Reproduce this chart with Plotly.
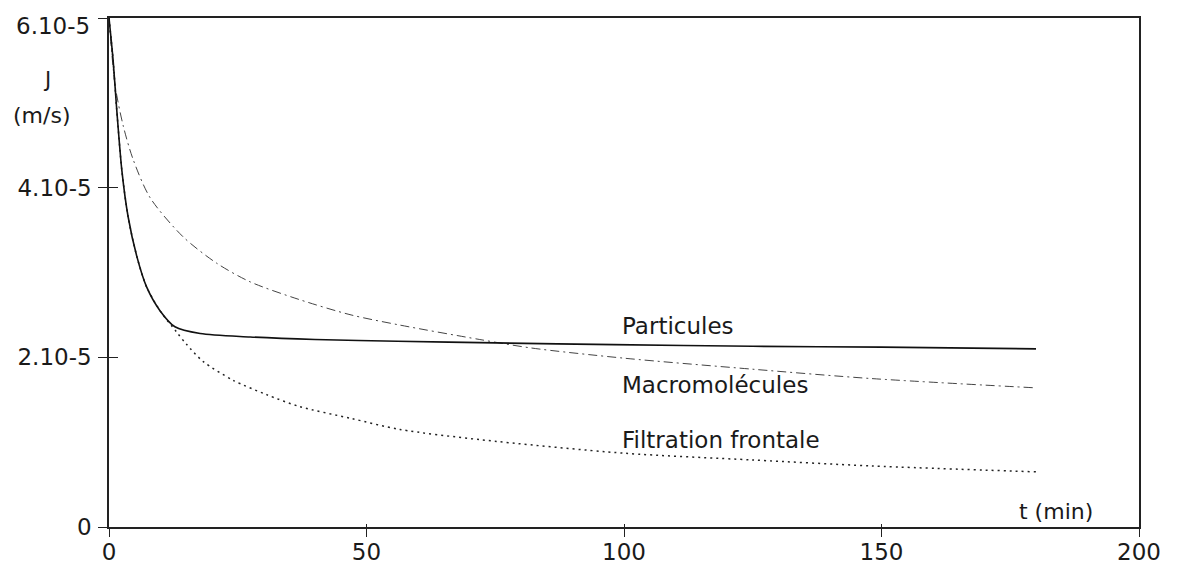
import plotly.graph_objects as go

# Flux J (unités de 1e-5 m/s) en fonction du temps t (min)
t_part = [0, 0.8, 1.5, 2.5, 3.7, 5.4, 7.3, 9.9, 12.8, 17.7, 27.4, 40, 56, 75, 98, 125, 150, 180]
j_part = [6.0, 5.5, 4.92, 4.2, 3.66, 3.19, 2.83, 2.55, 2.36, 2.28, 2.24, 2.21, 2.19, 2.17, 2.15, 2.13, 2.12, 2.10]

t_macro = [0, 1.2, 2.8, 4.7, 8.0, 14.4, 20.9, 27.4, 37, 47, 56.5, 72, 82, 100, 125, 148, 180]
j_macro = [6.0, 5.2, 4.72, 4.33, 3.88, 3.42, 3.11, 2.89, 2.68, 2.50, 2.38, 2.21, 2.11, 1.99, 1.86, 1.75, 1.64]

t_filt = [0, 0.8, 1.5, 2.5, 3.7, 5.4, 7.3, 9.9, 13.1, 15.1, 18.3, 24.1, 30.6, 37, 47, 56.5, 72, 100, 125, 148, 180]
j_filt = [6.0, 5.5, 4.92, 4.2, 3.66, 3.19, 2.83, 2.55, 2.30, 2.15, 1.95, 1.73, 1.56, 1.42, 1.28, 1.15, 1.03, 0.87, 0.79, 0.72, 0.65]

x_ticks = [0, 50, 100, 150, 200]
y_ticks = [0, 2, 4, 6]
y_ticktext = ['0', '2.10-5', '4.10-5', '']
top_label = '6.10-5'

FONT = dict(family='DejaVu Sans', size=23, color='#1a1a1a')

fig = go.Figure()

fig.add_trace(go.Scatter(x=t_macro, y=j_macro, mode='lines', name='Macromolécules',
                         line=dict(color='#444', width=1, dash='9px,4px,2px,4px',
                                   shape='spline', smoothing=0.8)))
fig.add_trace(go.Scatter(x=t_filt, y=j_filt, mode='lines', name='Filtration frontale',
                         line=dict(color='#222', width=1.5, dash='2px,4px',
                                   shape='spline', smoothing=0.8)))
fig.add_trace(go.Scatter(x=t_part, y=j_part, mode='lines', name='Particules',
                         line=dict(color='#111', width=1.6, shape='spline', smoothing=0.8)))
# axes fantômes pour les graduations qui traversent l'axe
fig.add_trace(go.Scatter(x=[0], y=[0], xaxis='x2', yaxis='y2', mode='markers',
                         marker=dict(opacity=0), hoverinfo='skip', showlegend=False))

# la page ajoute 8 px de marge autour du graphique
fig.update_layout(
    width=1172, height=556,
    margin=dict(l=101, r=41, t=10, b=37),
    paper_bgcolor='white', plot_bgcolor='white',
    showlegend=False,
    font=FONT,
    xaxis=dict(range=[0, 200], tickvals=x_ticks, ticks='outside', ticklen=8, tickwidth=1,
               tickcolor='#222', showgrid=False, zeroline=False, showline=True,
               linecolor='#222', linewidth=1.5, mirror=True, ticklabelstandoff=-4,
               automargin=False),
    yaxis=dict(range=[0, 6], tickvals=y_ticks, ticktext=y_ticktext, ticks='outside',
               ticklen=9, tickwidth=1, tickcolor='#222', showgrid=False, zeroline=False,
               showline=True, linecolor='#222', linewidth=1.5, mirror=True,
               ticklabelstandoff=2, automargin=False),
    xaxis2=dict(range=[0, 200], tickvals=x_ticks, ticks='inside', ticklen=3, tickwidth=1,
                tickcolor='#222', showticklabels=False, showgrid=False, zeroline=False,
                overlaying='x', side='bottom', automargin=False),
    yaxis2=dict(range=[0, 6], tickvals=y_ticks, ticks='inside', ticklen=9, tickwidth=1,
                tickcolor='#222', showticklabels=False, showgrid=False, zeroline=False,
                overlaying='y', side='left', automargin=False),
)

labels = [
    ('Particules', 99.2, 2.37),
    ('Macromolécules', 99.2, 1.67),
    ('Filtration frontale', 99.2, 1.02),
]
for text, x, y in labels:
    fig.add_annotation(text=text, x=x, y=y, xref='x', yref='y', showarrow=False,
                       xanchor='left', yanchor='middle', font=dict(size=23))

# étiquette du haut de l'axe, légèrement abaissée comme sur l'original
fig.add_annotation(text=top_label, x=-0.0165, y=0.984, xref='paper', yref='paper',
                   xanchor='right', yanchor='middle', showarrow=False)
fig.add_annotation(text='t (min)', x=191.5, y=0.18, xref='x', yref='y', showarrow=False,
                   xanchor='right', yanchor='middle', font=dict(size=22))
fig.add_annotation(text='J', x=-0.060, y=0.878, xref='paper', yref='paper', xanchor='center',
                   yanchor='middle', showarrow=False, font=dict(size=21))
fig.add_annotation(text='(m/s)', x=-0.066, y=0.809, xref='paper', yref='paper', xanchor='center',
                   yanchor='middle', showarrow=False, font=dict(size=22))

fig.write_html('out.html')
